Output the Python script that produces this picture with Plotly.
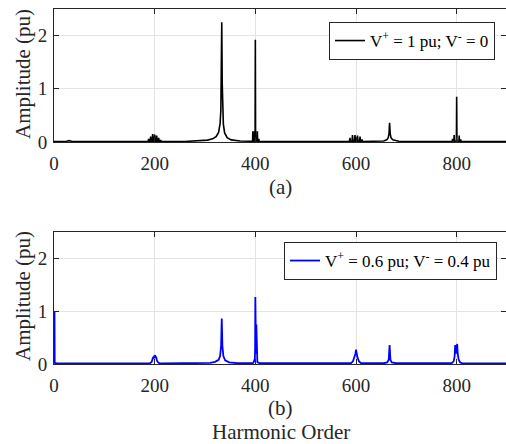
import plotly.graph_objects as go

# ---- data (harmonic order, amplitude in pu) ----
h_a = [0, 10, 25, 30, 35, 60, 150, 185,
       187, 188, 189, 191, 192, 193, 195, 196, 197, 199, 200, 201,
       203, 204, 205, 207, 208, 209, 211, 212, 213,
       260, 290, 305, 315, 322, 327, 330, 331.5, 332.4, 333.3, 334.2, 335, 336.5, 339, 344, 352, 370, 390,
       394.5, 395, 395.5, 397, 397.5, 398, 399.5, 400, 400.5, 403.5, 404, 404.5, 406.5, 407, 407.5, 412,
       480, 560, 585,
       587, 588, 589, 592, 593, 594, 597, 598, 599, 602, 603, 604, 607, 608, 609, 611, 612, 613,
       640, 655, 661, 664, 665.5, 666.7, 668, 669.5, 673, 685, 760, 788,
       791, 792, 793, 794.5, 795, 795.5, 799.5, 800, 800.5, 804.5, 805, 805.5, 807.5, 808, 808.5, 830, 900]
amp_a = [0.01, 0.01, 0.015, 0.025, 0.015, 0.01, 0.008, 0.01,
         0.01, 0.06, 0.01, 0.01, 0.1, 0.01, 0.01, 0.15, 0.01, 0.01, 0.14, 0.01,
         0.01, 0.12, 0.01, 0.01, 0.08, 0.01, 0.01, 0.04, 0.01,
         0.01, 0.02, 0.035, 0.06, 0.1, 0.18, 0.35, 0.6, 1.1, 2.25, 1.1, 0.6, 0.33, 0.17, 0.08, 0.04, 0.02, 0.015,
         0.015, 0.2, 0.015, 0.015, 0.2, 0.015, 0.02, 1.92, 0.02, 0.015, 0.2, 0.015, 0.01, 0.06, 0.01, 0.01,
         0.01, 0.01, 0.01,
         0.01, 0.08, 0.01, 0.01, 0.13, 0.01, 0.01, 0.13, 0.01, 0.01, 0.12, 0.01, 0.01, 0.1, 0.01, 0.01, 0.05, 0.01,
         0.012, 0.02, 0.04, 0.08, 0.15, 0.36, 0.15, 0.08, 0.04, 0.015, 0.01, 0.012,
         0.012, 0.06, 0.012, 0.012, 0.13, 0.012, 0.02, 0.85, 0.02, 0.012, 0.12, 0.012, 0.01, 0.05, 0.01, 0.01, 0.01]

h_b = [0, 0.6, 1, 1.4, 5, 40, 120, 190, 194, 196, 197, 198, 199, 200, 201, 202, 203, 204, 206, 210,
       260, 310, 320, 327, 330, 332, 333.3, 334.5, 336.5, 340, 348, 365,
       395, 397, 399, 399.6, 400, 400.6, 401.3, 402, 402.6, 404, 408,
       480, 560, 590, 594, 597, 599, 600, 601, 603, 606, 610,
       655, 662, 665, 666.7, 668.4, 671, 680,
       740, 790, 794, 796, 797, 798, 799.5, 801, 802, 804, 807, 812, 860, 900]
amp_b = [0.01, 0.02, 1.0, 0.02, 0.015, 0.01, 0.01, 0.01, 0.04, 0.1, 0.13, 0.1, 0.16, 0.12, 0.17, 0.11, 0.14, 0.08, 0.04, 0.01,
         0.01, 0.02, 0.04, 0.08, 0.15, 0.35, 0.86, 0.35, 0.15, 0.07, 0.03, 0.015,
         0.015, 0.04, 0.1, 0.3, 1.27, 0.3, 0.2, 0.75, 0.15, 0.04, 0.015,
         0.01, 0.01, 0.015, 0.05, 0.12, 0.2, 0.27, 0.22, 0.12, 0.05, 0.015,
         0.015, 0.03, 0.08, 0.36, 0.08, 0.03, 0.015,
         0.01, 0.015, 0.05, 0.15, 0.36, 0.2, 0.25, 0.38, 0.2, 0.08, 0.03, 0.01, 0.01, 0.01]

name_a = "V<sup>+</sup> = 1 pu; V<sup>-</sup> = 0"
name_b = "V<sup>+</sup> = 0.6 pu; V<sup>-</sup> = 0.4 pu"
x_ticks = [0, 200, 400, 600, 800]
y_ticks = [0, 1, 2]

FONT = "Times New Roman, Liberation Serif, serif"
TXT = "#262626"

fig = go.Figure()
fig.add_trace(go.Scatter(x=h_a, y=amp_a, mode="lines", name=name_a,
                         line=dict(color="black", width=1.6), xaxis="x", yaxis="y", legend="legend"))
fig.add_trace(go.Scatter(x=h_b, y=amp_b, mode="lines", name=name_b,
                         line=dict(color="#0000ff", width=1.8), xaxis="x2", yaxis="y2", legend="legend2"))

ax_common = dict(range=[0, 898], tickvals=x_ticks, showgrid=True, gridcolor="#e3e3e3", gridwidth=1,
                 showline=True, linecolor=TXT, linewidth=1, mirror="ticks", ticks="inside", ticklen=5,
                 tickcolor=TXT, zeroline=False, ticklabelstandoff=4,
                 tickfont=dict(family=FONT, size=19, color=TXT))
ay_common = dict(range=[0, 2.5], tickvals=y_ticks, showgrid=True, gridcolor="#e3e3e3", gridwidth=1,
                 showline=True, linecolor=TXT, linewidth=1, mirror="ticks", ticks="inside", ticklen=5,
                 tickcolor=TXT, zeroline=False, ticklabelstandoff=2,
                 tickfont=dict(family=FONT, size=19, color=TXT))

def py(px):
    return (364 - px) / 355.0

def pxx(px):
    return (px - 54) / 452.0

leg_common = dict(font=dict(family=FONT, size=17, color="black"), bgcolor="white",
                  bordercolor=TXT, borderwidth=1, xanchor="right", yanchor="top",
                  itemwidth=30, tracegroupgap=0)

fig.update_layout(
    width=506, height=444,
    margin=dict(l=54, r=0, t=9, b=80),
    paper_bgcolor="white", plot_bgcolor="white",
    font=dict(family=FONT),
    xaxis=dict(domain=[0, 1], anchor="y", **ax_common),
    yaxis=dict(domain=[py(142), 1], anchor="x", **ay_common),
    xaxis2=dict(domain=[0, 1], anchor="y2", **ax_common),
    yaxis2=dict(domain=[0, py(232)], anchor="x2", **ay_common),
    legend=dict(x=pxx(495), y=py(22), **leg_common),
    legend2=dict(x=pxx(497), y=py(242), **leg_common),
    showlegend=True,
)

ann_font = dict(family=FONT, size=21, color=TXT)
for text, x, y, rot in [("(a)", pxx(280), py(187), 0),
                        ("(b)", pxx(280), py(408), 0),
                        ("Harmonic Order", pxx(281), py(432), 0),
                        ("Amplitude (pu)", pxx(23), py(74), -90),
                        ("Amplitude (pu)", pxx(23), py(296), -90)]:
    fig.add_annotation(text=text, x=x, y=y, xref="paper", yref="paper", showarrow=False,
                       xanchor="center", yanchor="middle", textangle=rot, font=ann_font)

fig.write_html("out.html")
